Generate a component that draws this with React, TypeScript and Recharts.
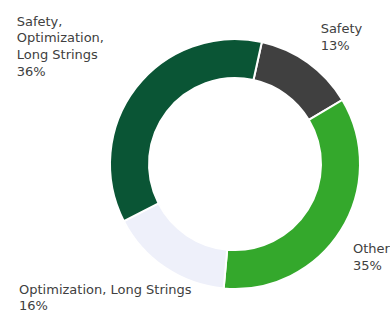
import { PieChart, Pie, Cell } from "recharts";

const categories = [
  "Safety",
  "Other",
  "Optimization, Long Strings",
  "Safety, Optimization, Long Strings",
];
const shares = [13, 35, 16, 36];
const colors = ["#404040", "#34a82c", "#eef0fa", "#0a5535"];

const data = categories.map((name, i) => ({ name, value: shares[i] }));

// where each label block sits relative to the point just outside the ring
const labelLayout: Record<string, { dx: number; dy: number; wrap: boolean }> = {
  "Safety": { dx: 2, dy: -15, wrap: false },
  "Other": { dx: -3, dy: 13, wrap: false },
  "Optimization, Long Strings": { dx: -136, dy: 11, wrap: false },
  "Safety, Optimization, Long Strings": { dx: -105, dy: -51, wrap: true },
};

const RAD = Math.PI / 180;
const LINE = 16.6;

function renderLabel(props: any) {
  const { cx, cy, midAngle, outerRadius, name, percent } = props;
  const r = outerRadius + 18;
  const px = cx + r * Math.cos(-midAngle * RAD);
  const py = cy + r * Math.sin(-midAngle * RAD);
  const lay = labelLayout[name];
  const parts = lay.wrap
    ? name.split(", ").map((p: string, i: number, a: string[]) => (i < a.length - 1 ? p + "," : p))
    : [name];
  const lines = [...parts, `${Math.round(percent * 100)}%`];
  const x0 = px + lay.dx;
  const y0 = py + lay.dy;
  return (
    <text
      x={x0}
      y={y0}
      fill="#404040"
      fontSize={13}
      fontFamily="'DejaVu Sans', Verdana, sans-serif"
      textAnchor="start"
    >
      {lines.map((l, i) => (
        <tspan key={i} x={x0} y={y0 + i * LINE}>
          {l}
        </tspan>
      ))}
    </text>
  );
}

export default function App() {
  return (
    <div style={{ position: "absolute", left: 0, top: 0, width: 390, height: 313, background: "#fff" }}>
      <PieChart width={390} height={313} margin={{ top: 0, right: 0, bottom: 0, left: 0 }}>
        <Pie
          data={data}
          dataKey="value"
          nameKey="name"
          cx={235}
          cy={164}
          outerRadius={125}
          innerRadius={86}
          startAngle={77.6}
          endAngle={-282.4}
          stroke="#ffffff"
          strokeWidth={2}
          label={renderLabel}
          labelLine={false}
          isAnimationActive={false}
        >
          {data.map((d, i) => (
            <Cell key={d.name} fill={colors[i]} />
          ))}
        </Pie>
      </PieChart>
    </div>
  );
}
